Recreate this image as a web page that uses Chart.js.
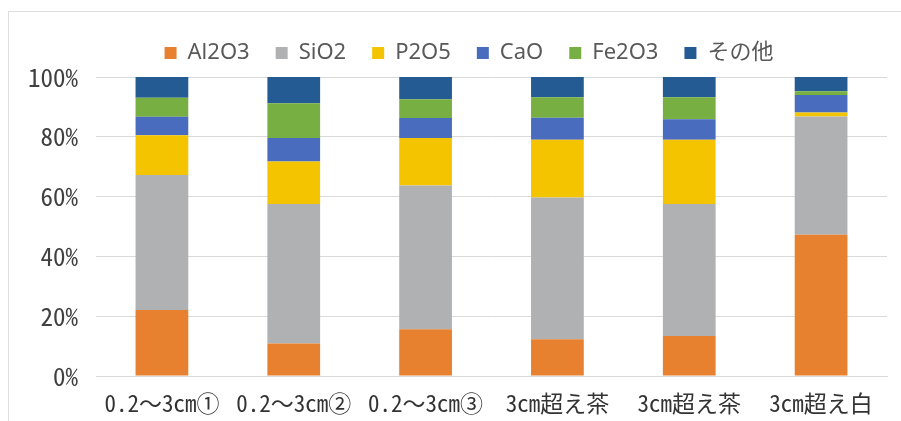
<!DOCTYPE html>
<html lang="ja">
<head>
<meta charset="utf-8">
<title>成分組成</title>
<script src="https://cdn.jsdelivr.net/npm/chart.js@4/dist/chart.umd.min.js"></script>
<style>
  html, body { margin: 0; padding: 0; background: #ffffff; }
  #wrap { position: relative; width: 901px; height: 421px; overflow: hidden; }
  #frame { position: absolute; left: 8px; top: 11px; right: -2px; bottom: -2px;
           border-left: 1px solid #dedede; border-top: 1px solid #dedede; }
  #c { position: absolute; left: 0; top: 0; }
</style>
</head>
<body>
<div id="wrap">
  <div id="frame"></div>
  <canvas id="c" width="901" height="421"></canvas>
</div>
<script>
// 試料区分
const categories = ['0.2～3cm①', '0.2～3cm②', '0.2～3cm③', '3cm超え茶', '3cm超え茶', '3cm超え白'];

// 成分ごとの割合 (%)
const al2o3 = [22.1, 10.9, 15.6, 12.3, 13.4, 47.2];
const sio2  = [45.1, 46.6, 48.1, 47.4, 44.1, 39.6];
const p2o5  = [13.3, 14.2, 15.9, 19.3, 21.5, 1.3];
const cao   = [6.2, 7.9, 6.7, 7.4, 6.9, 5.9];
const fe2o3 = [6.4, 11.6, 6.3, 6.8, 7.3, 1.2];
const other = [6.9, 8.8, 7.4, 6.8, 6.8, 4.8];

const seriesNames = ['Al2O3', 'SiO2', 'P2O5', 'CaO', 'Fe2O3', 'その他'];
const seriesValues = [al2o3, sio2, p2o5, cao, fe2o3, other];
const seriesColors = ['#E7802F', '#B0B1B2', '#F5C400', '#4A6CBF', '#77AF42', '#255B93'];

// 目盛
const yTicks = [0, 20, 40, 60, 80, 100];

const tickFont = '"Noto Sans Mono CJK JP", "Noto Sans CJK JP", sans-serif';

// 凡例: 下側に余白を足し、左端をずらして中央位置を整える
const legendPlacement = {
  id: 'legendPlacement',
  afterInit(chart) {
    const lg = chart.legend;
    if (!lg || lg._gapWrapped) return;
    const fit = lg.fit.bind(lg);
    lg.fit = function () { fit(); this.height += 3; };
    lg._gapWrapped = true;
  },
  afterLayout(chart) {
    const lg = chart.legend;
    if (lg) lg.left = 51;
  }
};

new Chart(document.getElementById('c'), {
  type: 'bar',
  data: {
    labels: categories,
    datasets: seriesNames.map((name, i) => ({
      label: name,
      data: seriesValues[i],
      backgroundColor: seriesColors[i],
      borderWidth: 0,
      categoryPercentage: 0.8,
      barPercentage: 0.5
    }))
  },
  options: {
    responsive: false,
    animation: false,
    devicePixelRatio: 1,
    layout: { padding: { left: 0, right: 14, top: 16, bottom: 0 } },
    plugins: {
      tooltip: { enabled: false },
      legend: {
        position: 'top',
        labels: {
          boxWidth: 12,
          boxHeight: 12,
          padding: 26,
          color: '#595959',
          font: { family: '"Noto Sans", "Noto Sans CJK JP", sans-serif', size: 22 }
        }
      }
    },
    scales: {
      x: {
        stacked: true,
        grid: { display: false, drawTicks: false },
        border: { display: true, color: '#d9d9d9', width: 1 },
        ticks: {
          color: '#333333',
          padding: 13,
          maxRotation: 0,
          autoSkip: false,
          font: { family: tickFont, size: 23 }
        },
        afterFit(scale) { scale.height = 45; }
      },
      y: {
        stacked: true,
        min: 0,
        max: 100,
        afterBuildTicks(scale) { scale.ticks = yTicks.map(v => ({ value: v })); },
        grid: { color: '#d9d9d9', lineWidth: 1, drawTicks: false },
        border: { display: false },
        ticks: {
          color: '#404040',
          padding: 18,
          font: { family: tickFont, size: 25 },
          callback: v => v + '%'
        },
        afterFit(scale) { scale.width = 96; }
      }
    }
  },
  plugins: [legendPlacement]
});
</script>
</body>
</html>
